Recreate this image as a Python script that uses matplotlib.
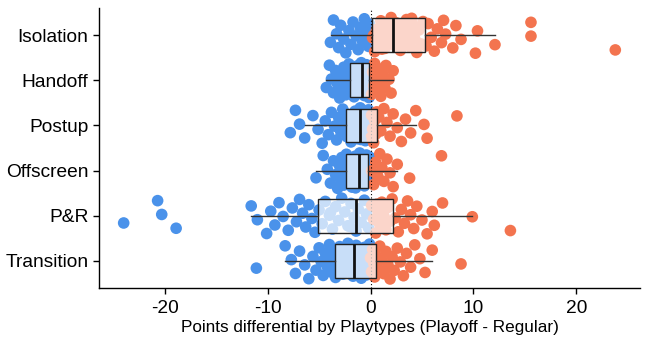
import numpy as np
import matplotlib.pyplot as plt

plt.rcParams['font.family'] = ['Liberation Sans', 'DejaVu Sans']
plt.rcParams['axes.unicode_minus'] = False

# ===================== data =====================
CATEGORIES = ['Transition', 'P&R', 'Offscreen', 'Postup', 'Handoff', 'Isolation']

isolation = [-3.9, -3.6, -3.3, -3.1, -2.9, -2.6, -2.4, -2.1, -1.9, -1.7, -1.4, -1.2,
             -1.0, -0.8, -0.6, -0.4, -0.2, -0.1,
             0.2, 0.4, 0.6, 0.8, 1.0, 1.2, 1.4, 1.6, 1.8, 2.0, 2.1, 2.3, 2.5, 2.7,
             2.9, 3.1, 3.3, 3.5, 3.7, 3.9, 4.1, 4.3, 4.5, 4.7, 4.9, 5.1, 0.3, 1.1,
             2.6, 3.4, 4.0, 0.9,
             5.4, 5.6, 5.9, 6.2, 6.5, 6.9, 7.1, 7.3, 8.0, 8.3, 8.8, 10.2, 10.4,
             12.1, 15.6, 15.6, 23.8]
handoff = [-4.3, -4.0, -3.8, -3.6, -3.4, -3.2, -3.0, -2.9, -2.7, -2.6, -2.5, -2.4,
           -2.3, -2.2, -2.1,
           -2.0, -1.9, -1.8, -1.7, -1.6, -1.5, -1.4, -1.3, -1.2, -1.1, -1.0, -0.95,
           -0.9, -0.85, -0.8, -0.75, -0.7, -0.6, -0.5, -0.45, -0.4, -0.35, -0.3,
           -0.25, -0.2, -0.15, -0.1, -1.65, -1.25, -0.55,
           0.1, 0.2, 0.3, 0.4, 0.5, 0.6, 0.8, 0.9, 1.0, 1.2, 1.4, 1.5, 1.8, 2.0, 2.2]
postup = [-7.8, -7.3, -6.9, -6.4, -5.6, -5.1, -4.7, -4.4, -4.1, -3.8, -3.5, -3.3,
          -3.1, -2.9, -2.7, -2.5,
          -2.3, -2.2, -2.0, -1.9, -1.7, -1.6, -1.5, -1.4, -1.3, -1.2, -1.1, -1.0,
          -0.9, -0.8, -0.7, -0.6, -0.5, -0.4, -0.3, -0.2, -0.1, 0.05, 0.1, 0.2,
          0.3, 0.4, 0.5, 0.6, -1.8, -0.95,
          0.8, 1.0, 1.3, 1.6, 1.9, 2.2, 2.6, 3.0, 3.4, 3.9, 4.4, 5.2, 5.5, 8.4]
offscreen = [-5.3, -4.6, -4.2, -3.9, -3.6, -3.4, -3.2, -3.0, -2.9, -2.8, -2.7, -2.6,
             -2.5, -2.45,
             -2.35, -2.2, -2.1, -2.0, -1.9, -1.8, -1.7, -1.6, -1.5, -1.4, -1.3, -1.2,
             -1.1, -1.05, -1.0, -0.9, -0.8, -0.7, -0.6, -0.5, -0.45, -0.4, -0.35,
             -0.3, -1.25, -0.75, -1.45, -0.55, -0.2, -0.1,
             0.1, 0.3, 0.5, 0.7, 0.9, 1.1, 1.3, 1.6, 1.9, 2.2, 2.6, 3.8, 6.9]
pnr = [-24.0, -20.7, -20.3, -18.9,
       -11.6, -11.0, -10.1, -9.7, -9.3, -8.9, -8.5, -8.0, -7.6, -7.2, -6.9, -6.6,
       -6.3, -6.0, -5.7, -5.4,
       -5.0, -4.7, -4.4, -4.0, -3.7, -3.4, -3.1, -2.8, -2.5, -2.2, -1.9, -1.6,
       -1.4, -1.2, -0.9, -0.6, -0.4, -0.2, 0.1, 0.3, 0.5, 0.7, 0.9, 1.1, 1.3,
       1.5, 1.7, 1.9, 2.1, -3.9, -2.0, 0.6,
       2.4, 2.7, 3.0, 3.3, 3.6, 3.9, 4.2, 4.5, 5.0, 5.5, 6.0, 6.2, 7.0, 9.9, 13.6]
transition = [-11.1,
              -8.3, -7.7, -7.3, -6.9, -6.4, -6.0, -5.6, -5.3, -5.0, -4.8, -4.6, -4.4,
              -4.2, -4.0, -3.9, -3.8, -3.7, -3.6,
              -3.4, -3.3, -3.1, -3.0, -2.8, -2.7, -2.5, -2.4, -2.2, -2.1, -2.0, -1.9,
              -1.8, -1.7, -1.6, -1.5, -1.4, -1.3, -1.2, -1.1, -1.0, -0.9, -0.8, -0.7,
              -0.6, -0.5, -0.4, -0.3, -0.2, -0.1, 0.0, 0.1, 0.2, 0.3, 0.4, 0.5,
              0.7, 0.9, 1.1, 1.3, 1.5, 1.7, 1.9, 2.1, 2.3, 2.6, 2.9, 3.2, 3.5, 3.9,
              4.3, 4.8, 5.3, 6.0, 8.8]

# box statistics (same order as CATEGORIES)
box_q1 = [-3.5, -5.1, -2.4, -2.4, -2.0, 0.1]
box_med = [-1.65, -1.4, -1.1, -1.0, -0.85, 2.2]
box_q3 = [0.5, 2.2, -0.26, 0.6, -0.1, 5.3]
whisk_lo = [-8.3, -11.6, -5.3, -6.4, -4.3, -3.8]
whisk_hi = [6.0, 9.9, 2.6, 4.4, 2.2, 12.1]

BLUE = '#4A92EA'
ORANGE = '#F3744F'

# ===================== plot =====================
fig = plt.figure(figsize=(6.5, 3.46), dpi=100)
ax = fig.add_axes([0.1523, 0.1676, 0.8323, 0.8092])

series = [transition, pnr, offscreen, postup, handoff, isolation]
for pos, vals in enumerate(series, start=1):
    vals = np.array(vals)
    n = len(vals)
    # deterministic jitter (golden-ratio sequence)
    jit = ((np.arange(n) * 0.618034 + 0.3) % 1 - 0.5) * 0.8
    cols = np.where(vals < 0, BLUE, ORANGE)
    ax.scatter(vals, pos + jit, s=70, c=cols, edgecolors='none', zorder=1)

ax.axvline(0, color='black', linestyle=(0, (1, 2)), linewidth=0.8, zorder=2)

stats = []
for i, name in enumerate(CATEGORIES):
    stats.append({'label': name, 'q1': box_q1[i], 'med': box_med[i], 'q3': box_q3[i],
                  'whislo': whisk_lo[i], 'whishi': whisk_hi[i], 'fliers': []})
ax.bxp(stats, positions=range(1, 7), vert=False, widths=0.75, patch_artist=True,
       showcaps=False, showfliers=False,
       boxprops=dict(facecolor=(1, 1, 1, 0.7), edgecolor='#222222', linewidth=1.0),
       medianprops=dict(color='#111111', linewidth=2.0),
       whiskerprops=dict(color='#333333', linewidth=1.0),
       zorder=3)

ax.set_xlim(-26.4, 26.2)
ax.set_ylim(0.4, 6.6)
ax.set_xticks([-20, -10, 0, 10, 20])
ax.set_yticks(range(1, 7))
ax.set_yticklabels(CATEGORIES)
ax.tick_params(axis='both', labelsize=13.8, length=4, width=1, colors='black')
ax.tick_params(axis='x', pad=4.5)
ax.set_xlabel('Points differential by Playtypes (Playoff - Regular)', fontsize=12.3,
              labelpad=2)
for side in ['top', 'right']:
    ax.spines[side].set_visible(False)
for side in ['left', 'bottom']:
    ax.spines[side].set_linewidth(1.0)

fig.savefig('out.png', dpi=100)
